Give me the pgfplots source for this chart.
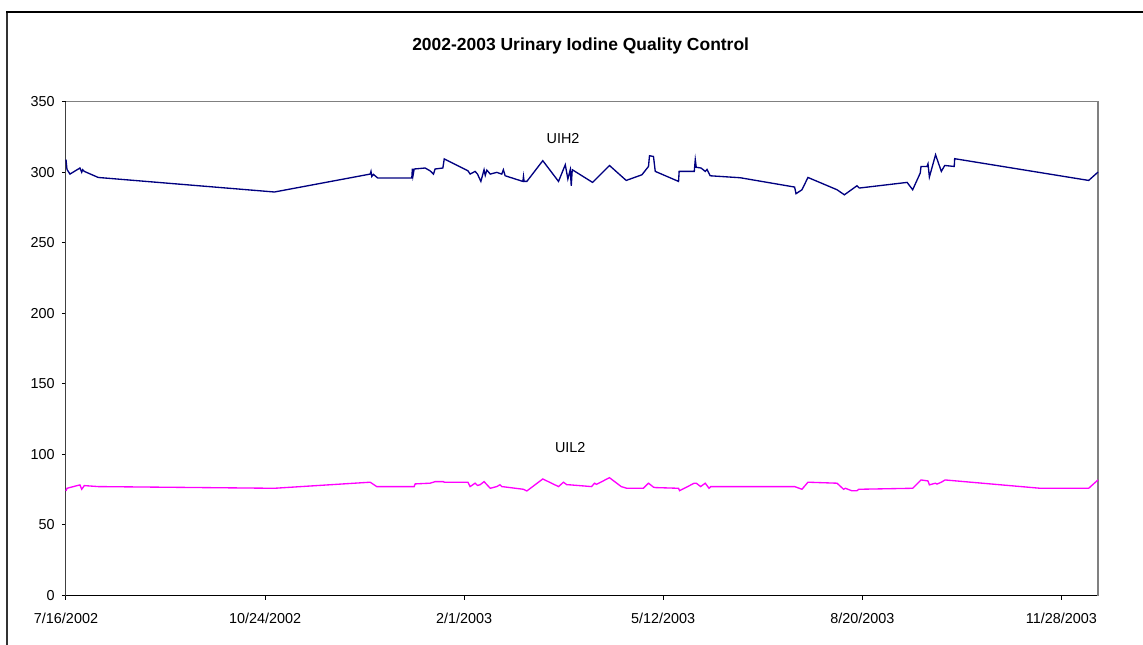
\documentclass[border=0pt]{standalone}
\usepackage{fontspec}
\setmainfont{Liberation Sans}
\usepackage{pgfplots}
\pgfplotsset{compat=1.18}
\definecolor{navyx}{RGB}{0,0,128}
\definecolor{magx}{RGB}{255,0,255}
\begin{document}
\begin{tikzpicture}
\useasboundingbox (-49.5pt,-36.375pt) rectangle (807.75pt,446.625pt);
\draw[black!80, line width=1.3pt] (-44.25pt,-40pt) -- (-44.25pt,437.6pt);
\draw[black, line width=0.8pt] (-44.9pt,437.6pt) -- (810pt,437.6pt);
\node[font=\bfseries\fontsize{13.1}{15}\selectfont] at (386pt,412.2pt) {2002-2003 Urinary Iodine Quality Control};
\begin{axis}[
  at={(0pt,0pt)}, anchor=south west,
  scale only axis, width=774pt, height=370.35pt,
  xmin=0, xmax=518.4, ymin=0, ymax=350,
  axis lines=left,
  axis line style={-, line width=0.75pt},
  x axis line style={black},
  y axis line style={black!75},
  xtick={0,100,200,300,400,500},
  xticklabels={7/16/2002,10/24/2002,2/1/2003,5/12/2003,8/20/2003,11/28/2003},
  ytick={0,50,...,350},
  tick align=outside,
  major tick length=3pt,
  tick style={black, line width=0.75pt},
  ticklabel style={font=\fontsize{10.8}{13}\selectfont},
  xticklabel style={yshift=-7pt},
  yticklabel style={xshift=-2pt},
  /pgf/number format/assume math mode=true,
  clip=false,
]
\draw[gray, line width=0.9pt] (rel axis cs:0,1) -- (rel axis cs:1,1) -- (rel axis cs:1,0);
\addplot[navyx, line width=1pt, mark=none] coordinates {
(0,309) (0.5,302) (2,298.7) (7,303) (7.9,300) (8.4,301.8) (9.2,300.6) (16.2,296.3)
(104.7,286) (152.8,298.7) (153.2,300.6) (153.6,297) (154.4,298.5) (156.6,295.9)
(170.4,295.9) (173.7,295.9) (174,302.5) (174.3,297.5) (174.9,302.3) (180.4,303)
(182.9,301) (184.6,298.7) (185.4,302.3) (189.3,303) (190,309.4) (201.9,301)
(203,298.7) (205.5,300.6) (206.7,298.7) (208.4,293.5) (210,301.8) (210.6,297.8)
(211.4,301.5) (213.1,298.7) (216.4,299.9) (218.9,298.7) (219.7,301.8) (220.6,297.5)
(229.5,293.5) (229.8,297) (230.1,293.5) (231.5,293.5) (239.5,308.2) (247.4,293.5)
(250.8,305.3) (252.1,295.2) (253.3,301.8) (253.8,290.4) (254.3,301.8) (264.5,292.8)
(273,304.8) (281.4,294.2) (289.3,298.2) (292.6,304.1) (293.1,311.7) (295.1,311.2)
(296,300.6) (307.7,293.5) (308,300.6) (315.6,300.6) (316.1,308.9) (316.6,303.5)
(319,303) (321.1,300.6) (322,302) (323.6,297.5) (338.7,296.1) (366,289.5)
(366.7,284.8) (369.7,287.6) (372.7,296.3) (387.3,287.6) (391,284) (397.3,290.4)
(398.5,288.8) (422.5,292.8) (425.3,287.6) (429.1,299.4) (429.5,304.1) (432.5,304.1)
(433,306) (433.7,296.6) (436.8,312.4) (439.7,300.6) (441.4,304.8) (446.2,304.1)
(446.4,309.6) (513.7,294.2) (518.4,300.1)
};
\addplot[magx, line width=1pt, mark=none] coordinates {
(0,74.1) (0.5,76) (7,78.4) (7.9,75.3) (9.2,77.9) (16.2,77.2) (104.7,76)
(152.8,80.3) (156.1,77.2) (170.4,77.2) (174.9,77.2) (175.4,79.1) (182.9,79.6)
(185.4,80.7) (189.6,80.7) (190,80.3) (201.9,80.3) (203,77.2) (205.5,79.6)
(206.7,78) (208,78.5) (210,80.7) (213.1,76) (216.4,77.2) (218,78.5) (218.9,77.2)
(229.8,75.3) (231.5,74.1) (239.5,82.6) (247.4,77.2) (249.9,80.3) (251.6,78.5)
(252.5,78.5) (264,77.2) (265.5,79.6) (266.5,78.8) (273,83.5) (278.9,77.2)
(281.7,76) (290,76) (292.6,79.6) (295.1,76.8) (296,76.5) (307.7,76) (308.2,74.3)
(315.6,79.6) (316.6,79.6) (318.8,77.2) (321.1,79.6) (323,76) (323.9,77.2)
(338.7,77.2) (366,77.2) (369.7,75.3) (372.7,80.3) (387.3,79.6) (390.6,75.3)
(391.5,76) (394.6,74.3) (397.3,74.3) (398.3,75.3) (425.3,76) (429.5,81.9)
(433,81.2) (433.7,78.4) (436.7,79.6) (437.5,79) (439.7,80.3) (441.6,81.9)
(489.4,76) (513.7,76) (518.4,81.9)
};
\node[font=\fontsize{10.8}{13}\selectfont] at (axis cs:249.7,323.8) {UIH2};
\node[font=\fontsize{10.8}{13}\selectfont] at (axis cs:253.3,104.6) {UIL2};
\end{axis}
\end{tikzpicture}
\end{document}
